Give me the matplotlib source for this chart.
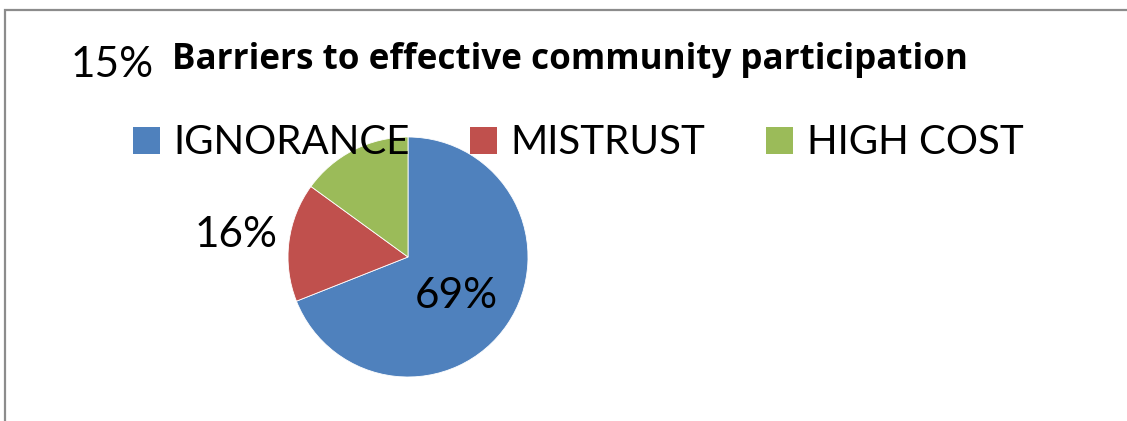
# Pie chart: barriers to effective community participation
import numpy as np
import matplotlib.pyplot as plt
from matplotlib.patches import Patch, Rectangle

categories = ['IGNORANCE', 'MISTRUST', 'HIGH COST']
shares = [69, 16, 15]
pct_labels = ['69%', '16%', '15%']
colors = ['#4f81bd', '#c0504d', '#9bbb59']

W, H = 1127, 421
fig = plt.figure(figsize=(W / 100, H / 100), dpi=100)
plt.rcParams['font.family'] = ['Lato', 'DejaVu Sans']

# chart frame (bottom/right run off the image)
fig.patches.append(Rectangle((5 / W, -0.1), 1.1, (H - 10) / H + 0.1,
                             transform=fig.transFigure, fill=False,
                             edgecolor='#8c8c8c', linewidth=1.6))

# pie axes: centre ~ (408, 257) px, radius 120 px
r = 120
ax = fig.add_axes([(408 - r) / W, (H - 257 - r) / H, 2 * r / W, 2 * r / H])
wedges, _ = ax.pie(shares, colors=colors, startangle=90, counterclock=False,
                   radius=1, wedgeprops=dict(edgecolor='white', linewidth=0.6))
ax.set_xlim(-1, 1)
ax.set_ylim(-1, 1)
ax.set_aspect('auto')
ax.axis('off')

# data labels, placed relative to each wedge's mid angle
label_dist = [0.52, 1.44, 2.94]
label_turn = [-5, 0, 30]
for w, lab, d, t in zip(wedges, pct_labels, label_dist, label_turn):
    ang = np.deg2rad((w.theta1 + w.theta2) / 2 + t)
    ax.text(d * np.cos(ang), d * np.sin(ang), lab, fontsize=30.5,
            ha='center', va='center', clip_on=False)

fig.text(570 / W, 1 - 69 / H, 'Barriers to effective community participation',
         fontsize=25.2, fontweight='bold', ha='center', va='baseline',
         family=['Open Sans', 'DejaVu Sans'])

handles = [Patch(facecolor=c, edgecolor='none') for c in colors]
fig.legend(handles, categories, loc='center', bbox_to_anchor=(578 / W, 1 - 143 / H),
           ncol=3, frameon=False, fontsize=29, handlelength=0.68, handleheight=0.68,
           handletextpad=0.33, columnspacing=1.5, borderpad=0, borderaxespad=0)

fig.savefig('out.png', dpi=100)
